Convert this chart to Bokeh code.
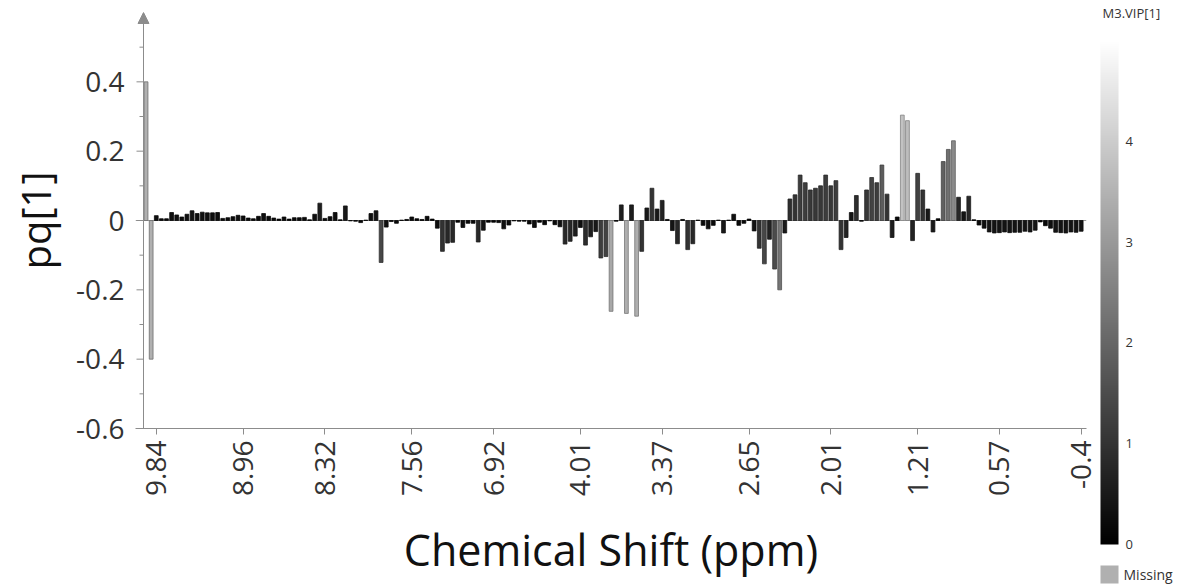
import math
import numpy as np
from bokeh.plotting import figure
from bokeh.models import (ColumnDataSource, LinearColorMapper, ColorBar, FixedTicker,
                          Span, Arrow, NormalHead, Range1d)
from bokeh.layouts import row
from bokeh.embed import file_html
from bokeh.resources import INLINE

NAN = float("nan")

# loading pq[1] per spectral bin (left = high ppm)
pq = [
    0.400, -0.400, 0.014, 0.005, 0.005, 0.023, 0.016, 0.010, 0.018, 0.028,
    0.020, 0.024, 0.022, 0.022, 0.023, 0.006, 0.008, 0.011, 0.015, 0.013,
    0.007, 0.005, 0.012, 0.020, 0.012, 0.007, 0.004, 0.010, 0.004, 0.008,
    0.008, 0.009, 0.002, 0.018, 0.050, 0.006, 0.011, 0.023, 0.002, 0.042,
    -0.001, -0.002, -0.006, 0.001, 0.020, 0.028, -0.121, -0.019, -0.003, -0.008,
    0.001, 0.003, 0.010, 0.005, 0.003, 0.012, 0.004, -0.022, -0.089, -0.065,
    -0.063, -0.005, -0.020, -0.008, -0.008, -0.062, -0.028, -0.005, -0.005, -0.006,
    -0.024, -0.013, -0.001, -0.002, -0.002, -0.010, -0.020, -0.005, -0.012, -0.001,
    -0.012, -0.018, -0.068, -0.060, -0.045, -0.020, -0.071, -0.047, -0.032, -0.108,
    -0.104, -0.262, -0.002, 0.045, -0.268, 0.045, -0.276, -0.089, 0.036, 0.093,
    0.033, 0.058, 0.003, -0.029, -0.067, 0.003, -0.084, -0.067, 0.001, -0.014,
    -0.024, -0.014, 0.001, -0.036, 0.001, 0.018, -0.014, -0.008, 0.004, -0.030,
    -0.080, -0.125, -0.054, -0.140, -0.200, -0.036, 0.062, 0.074, 0.131, 0.109,
    0.088, 0.093, 0.100, 0.131, 0.100, 0.115, -0.084, -0.049, 0.023, 0.072,
    -0.002, 0.088, 0.124, 0.109, 0.160, 0.076, -0.049, 0.010, 0.304, 0.288,
    -0.058, 0.136, 0.088, 0.033, -0.033, 0.005, 0.170, 0.205, 0.230, 0.067,
    0.025, 0.070, 0.002, -0.013, -0.022, -0.033, -0.036, -0.035, -0.033, -0.035,
    -0.034, -0.034, -0.031, -0.033, -0.028, -0.004, -0.015, -0.022, -0.034, -0.035,
    -0.036, -0.033, -0.034, -0.031,
]

# M3.VIP[1] per bin (NaN = Missing)
vip = [
    NAN, NAN, 0.3, 0.2, 0.2, 0.3, 0.3, 0.2, 0.3, 0.4,
    0.3, 0.3, 0.3, 0.3, 0.3, 0.2, 0.2, 0.2, 0.3, 0.2,
    0.2, 0.2, 0.2, 0.3, 0.2, 0.2, 0.1, 0.2, 0.1, 0.2,
    0.2, 0.2, 0.1, 0.3, 0.6, 0.2, 0.2, 0.3, 0.1, 0.5,
    0.1, 0.1, 0.2, 0.1, 0.3, 0.4, 1.4, 0.3, 0.1, 0.2,
    0.1, 0.1, 0.2, 0.1, 0.1, 0.2, 0.1, 0.3, 1.0, 0.8,
    0.8, 0.1, 0.3, 0.2, 0.2, 0.8, 0.4, 0.1, 0.1, 0.2,
    0.3, 0.2, 0.1, 0.1, 0.1, 0.2, 0.3, 0.1, 0.2, 0.1,
    0.2, 0.3, 0.8, 0.8, 0.6, 0.3, 0.9, 0.6, 0.5, 1.2,
    1.3, 3.3, 0.1, 0.6, 3.4, 0.6, 3.4, 1.0, 0.5, 1.0,
    0.5, 0.7, 0.1, 0.4, 0.8, 0.1, 1.0, 0.8, 0.1, 0.2,
    0.3, 0.2, 0.1, 0.5, 0.1, 0.3, 0.2, 0.2, 0.1, 0.4,
    1.0, 1.4, 0.7, 1.5, 2.3, 0.5, 0.9, 1.0, 1.2, 1.2,
    1.1, 1.1, 1.1, 1.2, 1.1, 1.2, 1.0, 0.7, 0.4, 0.9,
    0.1, 1.1, 1.3, 1.2, 1.8, 1.0, 0.6, 0.2, 3.8, 3.7,
    0.7, 1.3, 1.0, 0.5, 0.5, 0.1, 1.9, 2.2, 2.7, 0.8,
    0.4, 0.8, 0.1, 0.2, 0.3, 0.4, 0.4, 0.4, 0.4, 0.4,
    0.4, 0.4, 0.4, 0.4, 0.4, 0.1, 0.2, 0.3, 0.4, 0.4,
    0.4, 0.4, 0.4, 0.4,
]

# x tick labels (chemical shift, ppm) and the bins that carry them
tick_idx = [2, 19, 35, 52, 68, 85, 101, 118, 134, 151, 167, 183]
tick_labels = ["9.84", "8.96", "8.32", "7.56", "6.92", "4.01",
               "3.37", "2.65", "2.01", "1.21", "0.57", "-0.4"]

y_ticks = [-0.6, -0.4, -0.2, 0, 0.2, 0.4]
y_tick_labels = ["-0.6", "-0.4", "-0.2", "0", "0.2", "0.4"]
y_minor = [-0.5, -0.3, -0.1, 0.1, 0.3, 0.5]

vip_ticks = [0, 1, 2, 3, 4]
vip_low, vip_high = 0, 5
vip_title = "M3.VIP[1]"
missing_label = "Missing"

FONT = "Open Sans"
AX = "#8c8c8c"
MISSING = "#b0b0b0"

src = ColumnDataSource(dict(idx=np.arange(len(pq)), pq=np.array(pq, dtype=float),
                            vip=np.array(vip, dtype=float)))

grey = ["#%02x%02x%02x" % (v, v, v) for v in range(256)]
fill_mapper = LinearColorMapper(palette=grey, low=vip_low, high=vip_high, nan_color=MISSING)
line_mapper = LinearColorMapper(palette=grey, low=vip_low, high=vip_high * 1.45, nan_color="#6e6e6e")

# the frame starts 8 px left of the y axis line so that the arrow head is whole
AXIS_X = -0.5
PAD = 1.566
p = figure(width=1100, height=586, output_backend="svg", toolbar_location=None,
           x_range=Range1d(AXIS_X - PAD, len(pq) + 0.04), y_range=Range1d(-0.6, 0.6),
           min_border_left=135, min_border_right=14, min_border_top=12, min_border_bottom=158)
p.xgrid.visible = False
p.ygrid.visible = False
p.outline_line_color = None
p.background_fill_color = "white"

p.add_layout(Span(location=0, dimension="width", line_color="#9a9a9a", line_width=1, level="underlay"))

p.vbar(x="idx", top="pq", bottom=0, width=0.74, source=src,
       fill_color={"field": "vip", "transform": fill_mapper},
       line_color={"field": "vip", "transform": line_mapper}, line_width=0.8)

# y axis line, its tick marks and the arrow head
p.add_layout(Span(location=AXIS_X, dimension="height", line_color=AX, line_width=1))
p.ray(x=AXIS_X, y=y_ticks, length=7, length_units="screen", angle=math.pi,
      line_color=AX, line_width=1)
p.ray(x=AXIS_X, y=y_minor, length=4, length_units="screen", angle=math.pi,
      line_color=AX, line_width=1)
p.add_layout(Arrow(end=NormalHead(size=11, fill_color=AX, line_color=AX),
                   x_start=AXIS_X, y_start=p.y_range.end - 0.05,
                   x_end=AXIS_X, y_end=p.y_range.end,
                   line_color=AX, line_width=1))

xa = p.xaxis[0]
xa.ticker = FixedTicker(ticks=tick_idx)
xa.major_label_overrides = dict(zip(tick_idx, tick_labels))
xa.major_label_orientation = math.pi / 2
xa.major_label_text_font = FONT
xa.major_label_text_font_size = "28px"
xa.major_label_text_color = "#333333"
xa.major_label_standoff = 6
xa.major_tick_out = 6
xa.major_tick_in = 0
xa.minor_tick_line_color = None
xa.axis_line_color = AX
xa.major_tick_line_color = AX
xa.axis_label = "Chemical Shift (ppm)"
xa.axis_label_text_font = FONT
xa.axis_label_text_font_size = "43px"
xa.axis_label_text_font_style = "normal"
xa.axis_label_text_color = "#111111"
xa.axis_label_standoff = 21

ya = p.yaxis[0]
ya.ticker = FixedTicker(ticks=y_ticks, minor_ticks=y_minor)
ya.major_label_overrides = dict(zip(y_ticks, y_tick_labels))
ya.major_label_text_font = FONT
ya.major_label_text_font_size = "28px"
ya.major_label_text_color = "#333333"
ya.major_label_standoff = 11
ya.major_tick_out = 0
ya.major_tick_in = 0
ya.minor_tick_out = 0
ya.minor_tick_in = 0
ya.axis_line_color = None
ya.major_tick_line_color = None
ya.minor_tick_line_color = None
ya.axis_label = "pq[1]"
ya.axis_label_text_font = FONT
ya.axis_label_text_font_size = "40px"
ya.axis_label_text_font_style = "normal"
ya.axis_label_text_color = "#111111"
ya.axis_label_standoff = 10

# colour key panel (its frame is aligned with the main frame: page y 12..428)
cb = figure(width=78, height=586, output_backend="svg", toolbar_location=None,
            x_range=Range1d(0, 78), y_range=Range1d(0, 1),
            x_axis_type=None, y_axis_type=None, min_border=0)
cb.outline_line_color = None
cb.xgrid.visible = False
cb.ygrid.visible = False

common = dict(orientation="vertical", padding=0, major_tick_line_color=None,
              minor_tick_line_color=None, major_label_text_font=FONT,
              major_label_text_color="#333333", background_fill_alpha=0,
              border_line_color=None, bar_line_color=None)

# VIP gradient
cb.add_layout(ColorBar(color_mapper=fill_mapper, width=18, height=504, location=(0, -116),
                       ticker=FixedTicker(ticks=vip_ticks), major_label_text_font_size="13px",
                       label_standoff=7, **common))

# key title
title_mapper = LinearColorMapper(palette=["#ffffff"], low=0, high=1)
cb.add_layout(ColorBar(color_mapper=title_mapper, width=1, height=14, location=(0, 409),
                       scale_alpha=0, ticker=FixedTicker(ticks=[0.5]),
                       major_label_overrides={0.5: vip_title}, major_label_text_font_size="13px",
                       label_standoff=1, **common))

# swatch for missing values
missing_mapper = LinearColorMapper(palette=[MISSING], low=0, high=1)
cb.add_layout(ColorBar(color_mapper=missing_mapper, width=18, height=18, location=(0, -155),
                       ticker=FixedTicker(ticks=[0.5]), major_label_overrides={0.5: missing_label},
                       major_label_text_font_size="14px", label_standoff=5, **common))

layout = row(p, cb)
open("out.html", "w").write(file_html(layout, INLINE))
